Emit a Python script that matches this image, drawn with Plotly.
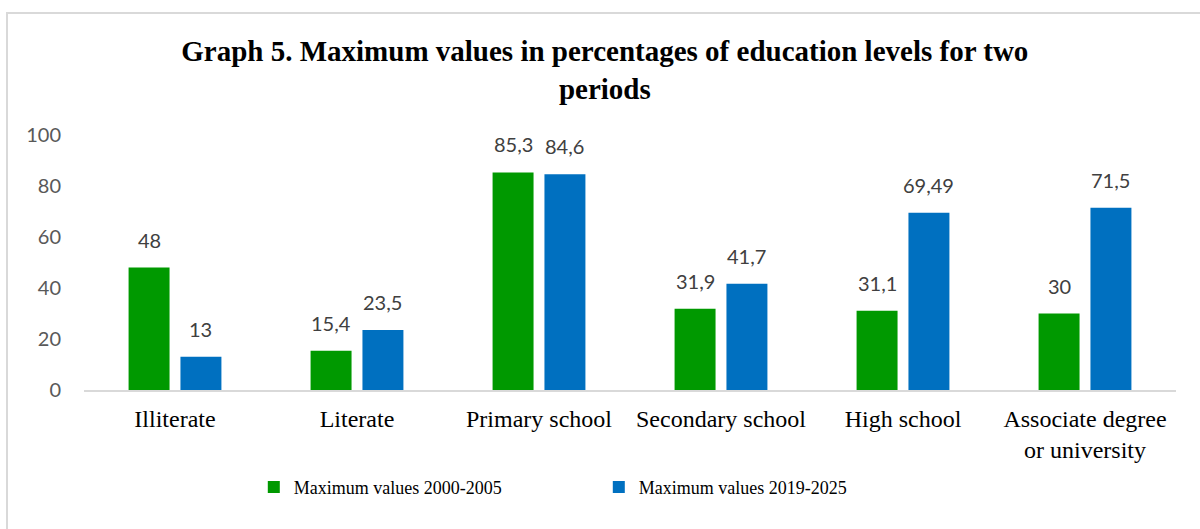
import plotly.graph_objects as go

categories = ["Illiterate", "Literate", "Primary school", "Secondary school",
              "High school", "Associate degree<br>or university"]
values_2000_2005 = [48, 15.4, 85.3, 31.9, 31.1, 30]
values_2019_2025 = [13, 23.5, 84.6, 41.7, 69.49, 71.5]
series_names = ["Maximum values 2000-2005", "Maximum values 2019-2025"]
tick_vals = [0, 20, 40, 60, 80, 100]

green = "#009900"
blue = "#0070c0"
label_font = dict(family="Lato", size=20, color="#404040")
serif = "Liberation Serif"

bargap = 0.43
slot = (1 - bargap) / 2

x_idx = list(range(len(categories)))

fig = go.Figure([
    go.Bar(x=x_idx, y=values_2000_2005, name=series_names[0], marker_color=green,
           marker_line_width=0),
    go.Bar(x=x_idx, y=values_2019_2025, name=series_names[1], marker_color=blue,
           marker_line_width=0),
])

# data labels above the bars
annotations = []
for vals, off in [(values_2000_2005, -slot / 2), (values_2019_2025, slot / 2)]:
    for i, v in enumerate(vals):
        annotations.append(dict(
            x=i + off, y=v, xref="x", yref="y",
            text=str(v).replace(".", ","), showarrow=False,
            yanchor="bottom", yshift=14, font=label_font))

fig.update_layout(
    width=1200, height=529,
    margin=dict(l=84, r=24, t=135, b=139, autoexpand=False),
    paper_bgcolor="white", plot_bgcolor="white",
    barmode="group", bargap=bargap, bargroupgap=0.21,
    title=dict(text="<b>Graph 5. Maximum values in percentages of education levels for two<br>periods</b>",
               x=0.504, xanchor="center", y=0.884, yanchor="top",
               font=dict(family=serif, size=29, color="black")),
    xaxis=dict(tickmode="array", tickvals=x_idx, ticktext=categories,
               range=[-0.5, len(categories) - 0.5], tickangle=0, automargin=False,
               showline=True, linecolor="#d9d9d9", linewidth=2,
               showgrid=False, ticks="", ticklabelstandoff=6,
               tickfont=dict(family=serif, size=24, color="black")),
    yaxis=dict(range=[0, 100], tickvals=tick_vals, showgrid=False, automargin=False,
               zeroline=False, showline=False,
               tickfont=dict(family="Lato", size=20, color="#595959"),
               ticklabelstandoff=22),
    legend=dict(orientation="h", xref="container", yref="container",
                x=0.499, xanchor="center", y=0.079, yanchor="middle",
                entrywidth=300,
                font=dict(family=serif, size=18, color="black")),
    annotations=annotations,
    shapes=[dict(type="rect", xref="paper", yref="paper",
                 x0=-0.0705, x1=1.2, y0=-1.0, y1=1.478,
                 line=dict(color="#d9d9d9", width=2), fillcolor="rgba(0,0,0,0)")],
)

fig.write_html("out.html", config={"displayModeBar": False},
               post_script="document.body.style.margin='0';")
